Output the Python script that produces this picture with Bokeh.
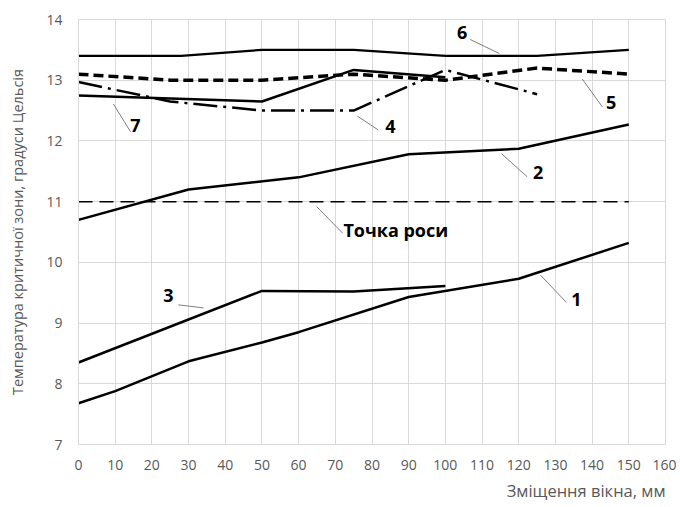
from bokeh.plotting import figure
from bokeh.models import Label, Range1d, FixedTicker, ColumnDataSource, Title
from bokeh.embed import file_html
from bokeh.resources import INLINE

# ---- data ----
x1 = [0, 10, 30, 50, 60, 90, 120, 150]
y1 = [7.68, 7.88, 8.37, 8.68, 8.85, 9.43, 9.73, 10.32]

x2 = [0, 30, 60, 90, 120, 150]
y2 = [10.70, 11.20, 11.40, 11.78, 11.87, 12.27]

x3 = [0, 50, 75, 100]
y3 = [8.35, 9.53, 9.52, 9.61]

x4 = [0, 25, 50, 75, 100, 125]
y4 = [12.97, 12.65, 12.50, 12.50, 13.17, 12.77]

x5 = [0, 25, 50, 75, 100, 125, 150]
y5 = [13.10, 13.00, 13.00, 13.10, 13.00, 13.20, 13.10]

x6 = [0, 28, 50, 75, 100, 125, 150]
y6 = [13.40, 13.40, 13.50, 13.50, 13.40, 13.40, 13.50]

x7 = [0, 25, 50, 75, 100]
y7 = [12.75, 12.70, 12.65, 13.17, 13.05]

dew_x = [0, 150]
dew_y = [11.0, 11.0]

x_ticks = list(range(0, 161, 10))
y_ticks = list(range(7, 15))

labels_text = ["1", "2", "3", "4", "5", "6", "7", "Точка роси"]
labels_x = [135.7, 125.3, 24.5, 85.0, 145.2, 104.6, 15.5, 72.2]
labels_y = [9.39, 11.48, 9.46, 12.23, 12.64, 13.79, 12.25, 10.54]
leader_x0 = [125.9, 115.3, 27.2, 76.0, 137.3, 106.8, 9.5, 64.9]
leader_y0 = [9.79, 11.79, 9.30, 12.41, 13.02, 13.67, 12.61, 10.92]
leader_x1 = [133.0, 122.3, 34.1, 81.7, 142.8, 114.7, 14.2, 72.0]
leader_y1 = [9.34, 11.41, 9.25, 12.18, 12.56, 13.44, 12.15, 10.48]

FONT = "Open Sans"
GRID = "#d9d9d9"
TICK = "#595959"

p = figure(width=676, height=505, output_backend="svg", toolbar_location=None,
           x_range=Range1d(0, 160), y_range=Range1d(7, 14),
           min_border_left=78, min_border_right=11, min_border_top=19, min_border_bottom=59)
p.background_fill_color = "white"
p.border_fill_color = "white"
p.outline_line_color = GRID

for ax in (p.xaxis[0], p.yaxis[0]):
    ax.axis_line_color = GRID
    ax.major_tick_line_color = None
    ax.minor_tick_line_color = None
    ax.major_label_text_color = TICK
    ax.major_label_text_font = FONT
    ax.major_label_text_font_size = "14px"
    ax.axis_label_text_color = TICK
    ax.axis_label_text_font = FONT
    ax.axis_label_text_font_style = "normal"
    ax.axis_label_text_font_size = "14.5px"

p.xaxis.ticker = FixedTicker(ticks=x_ticks)
p.yaxis.ticker = FixedTicker(ticks=y_ticks)
p.xaxis.major_label_standoff = 9
p.yaxis.major_label_standoff = 10
p.yaxis.axis_label = "Температура критичної зони, градуси Цельсія"
p.yaxis.axis_label_standoff = 16

p.xgrid.grid_line_color = GRID
p.ygrid.grid_line_color = GRID
p.xgrid.ticker = FixedTicker(ticks=x_ticks)
p.ygrid.ticker = FixedTicker(ticks=y_ticks)

p.line(dew_x, dew_y, line_color="black", line_width=1.5, line_dash="14 7")
p.line(x1, y1, line_color="black", line_width=2.5)
p.line(x2, y2, line_color="black", line_width=2.5)
p.line(x3, y3, line_color="black", line_width=2.5)
p.line(x7, y7, line_color="black", line_width=2.5)
p.line(x6, y6, line_color="black", line_width=2.2)
p.line(x5, y5, line_color="black", line_width=3.5, line_dash="10 5")
p.line(x4, y4, line_color="black", line_width=2.5, line_dash="24 6 3 6")

src = ColumnDataSource(dict(x0=leader_x0, y0=leader_y0, x1=leader_x1, y1=leader_y1))
p.segment(x0="x0", y0="y0", x1="x1", y1="y1", source=src, line_color="#7f7f7f", line_width=1)

for t, lx, ly in zip(labels_text, labels_x, labels_y):
    align = "left" if len(t) > 1 else "center"
    p.add_layout(Label(x=lx, y=ly, text=t, text_font=FONT, text_font_style="bold",
                       text_font_size="18px", text_color="black",
                       text_align=align, text_baseline="middle"))

# x axis title, right-aligned below the axis as in the reference
xt = Title(text="Зміщення вікна, мм", align="right", text_font=FONT,
           text_font_size="16.5px", text_font_style="normal", text_color=TICK,
           standoff=8)
p.add_layout(xt, "below")

open("out.html", "w").write(file_html(p, INLINE))
